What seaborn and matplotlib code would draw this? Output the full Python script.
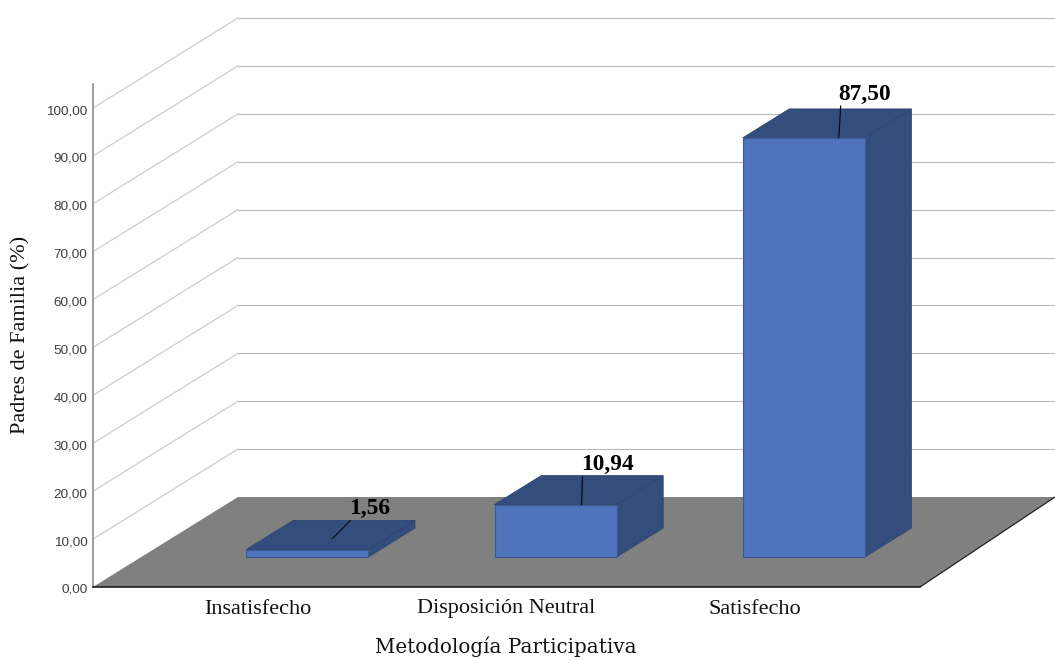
import matplotlib
matplotlib.use('Agg')
import matplotlib.pyplot as plt
import seaborn as sns
from matplotlib.patches import Polygon
from matplotlib.transforms import Affine2D, ScaledTranslation

categories = ['Insatisfecho', 'Disposición Neutral', 'Satisfecho']
values = [1.56, 10.94, 87.50]
value_labels = ['1,56', '10,94', '87,50']
ticks = list(range(0, 101, 10))
tick_labels = ['%d,00' % t for t in ticks]

# leader start on the bar top, leader end and label centre, in pixels from the bar top
leader_start = [(25, 11), (26, 0), (35, 0)]
leader_end = [(43, 29), (27, 28), (37, 32)]
label_pos = [(62, 41), (52, 40), (61, 43)]

BAR_FRONT = '#4f73bc'
BAR_DARK = '#334d7d'

sns.set_style('white')
plt.rcParams['font.family'] = ['Liberation Serif', 'DejaVu Serif']

W, H = 1055, 660
PX_X = 248.2   # pixels per category
PX_Y = 4.79    # pixels per percent
X0, Y0 = 93, 587

fig = plt.figure(figsize=(W / 100, H / 100), dpi=100)
ax = fig.add_axes([X0 / W, (H - Y0) / H, (W - X0) / W, (Y0 - 10) / H])

# oblique projection: depth 0 is the front edge of the floor, 1 the back wall
XMIN, XMAX = -166 / PX_X, (W - 259) / PX_X
XFRONT = 661 / PX_X
DX, DY = 145 / PX_X, 90 / PX_Y
BAR_D0, BAR_D1 = 1 / 3, 0.655
BAR_W = 122 / PX_X


def project(x, y, d):
    return x + d * DX, y + d * DY


sns.barplot(x=categories, y=values, color=BAR_FRONT, saturation=1, width=BAR_W,
            edgecolor='#3c5a94', linewidth=0.8, zorder=5, ax=ax)
shift = Affine2D().translate(BAR_D0 * DX, BAR_D0 * DY) + ax.transData
for bar in ax.containers[0]:
    bar.set_transform(shift)

ax.set_xlim(XMIN, XMAX)
ax.set_ylim(0, (Y0 - 10) / PX_Y)

# back wall lines
for t in ticks[1:]:
    bx, by = project(XMIN, t, 1)
    ax.plot([XMIN, bx], [t, by], color='#cdcdcd', lw=0.9, zorder=1, clip_on=False)
    ax.plot([bx, XMAX], [by, by], color='#b8b8b8', lw=0.8, zorder=1, clip_on=False)

# floor
floor = [project(XMIN, 0, 0), project(XMIN, 0, 1), project(XMAX, 0, 1),
         (XMAX, project(XMAX, 0, 1)[1]), project(XFRONT, 0, 0)]
ax.add_patch(Polygon(floor, closed=True, facecolor='#808080', edgecolor='none', zorder=2))
ax.plot([XFRONT, XMAX], [0, DY], color='#202020', lw=0.9, zorder=3)

# side and top faces of the bars, then leaders and value labels
for i, v in enumerate(values):
    l, r = i - BAR_W / 2, i + BAR_W / 2
    side = [project(r, 0, BAR_D0), project(r, 0, BAR_D1), project(r, v, BAR_D1), project(r, v, BAR_D0)]
    top = [project(l, v, BAR_D0), project(r, v, BAR_D0), project(r, v, BAR_D1), project(l, v, BAR_D1)]
    ax.add_patch(Polygon(side, closed=True, facecolor=BAR_DARK, edgecolor='#2b4470', lw=0.6, zorder=4))
    ax.add_patch(Polygon(top, closed=True, facecolor=BAR_DARK, edgecolor='#2b4470', lw=0.6, zorder=4.5))
    anchor = project(i, v, BAR_D0)
    start = (anchor[0] + leader_start[i][0] / PX_X, anchor[1] + leader_start[i][1] / PX_Y)
    end = (anchor[0] + leader_end[i][0] / PX_X, anchor[1] + leader_end[i][1] / PX_Y)
    ax.plot([start[0], end[0]], [start[1], end[1]], color='#0a0a14', lw=0.9, zorder=6)
    ax.text(anchor[0] + label_pos[i][0] / PX_X, anchor[1] + label_pos[i][1] / PX_Y, value_labels[i],
            ha='center', va='center', fontsize=16.8, fontweight='bold', color='black', zorder=7)

# axes
sns.despine(ax=ax)
ax.spines['left'].set_bounds(0, 503 / PX_Y)
ax.spines['left'].set_color('#8c8c8c')
ax.spines['left'].set_linewidth(1.2)
ax.spines['bottom'].set_bounds(XMIN, XFRONT)
ax.spines['bottom'].set_color('#101010')
ax.spines['bottom'].set_linewidth(1.1)
ax.spines['left'].set_zorder(8)
ax.spines['bottom'].set_zorder(8)

ax.set_yticks(ticks)
ax.set_yticklabels(tick_labels, family=['Liberation Sans', 'DejaVu Sans'], fontsize=9.7, color='#404040')
ax.tick_params(axis='y', length=0, pad=4)
ax.tick_params(axis='x', length=0, pad=9, labelsize=16, labelcolor='#111111')
down = ScaledTranslation(0, -1.5 / 100, fig.dpi_scale_trans)
for lab in ax.get_yticklabels():
    lab.set_transform(lab.get_transform() + down)
left = ScaledTranslation(-1 / 100, 0, fig.dpi_scale_trans)
for lab in ax.get_xticklabels():
    lab.set_transform(lab.get_transform() + left)

ax.set_xlabel('')
ax.set_ylabel('')
fig.text(21 / W, 1 - 335 / H, 'Padres de Familia (%)', rotation=90, ha='center', va='center',
         fontsize=16, color='#111111')
fig.text(506 / W, 1 - 647 / H, 'Metodología Participativa', ha='center', va='center',
         family=['DejaVu Serif'], fontsize=14.3, color='#111111')

fig.savefig('out.png', dpi=100)
